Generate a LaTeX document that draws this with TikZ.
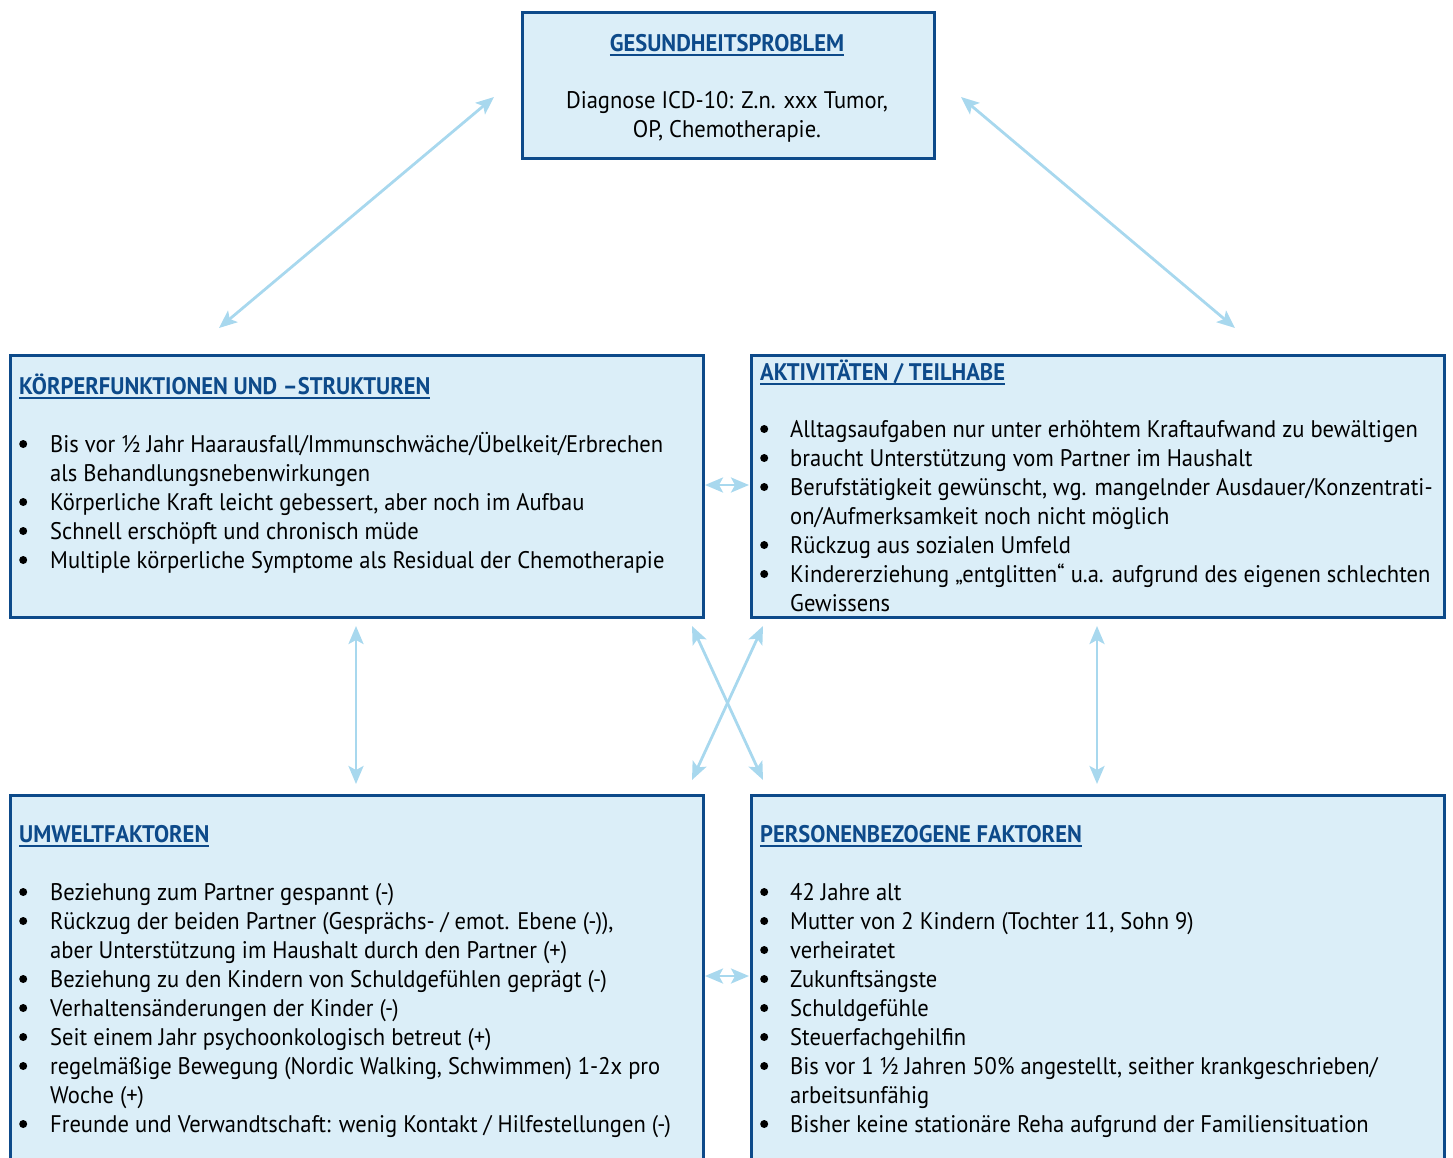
\documentclass[tikz,border=0pt]{standalone}
\usepackage{fontspec}
\setmainfont[FakeStretch=0.94]{PT Sans}
\usetikzlibrary{arrows.meta}
\definecolor{boxfill}{HTML}{DBEEF8}
\definecolor{boxline}{HTML}{0D4A8A}
\definecolor{arrowc}{HTML}{A8D8EE}
\newcommand\myul[1]{\setbox0\hbox{#1}\rlap{\rule[-4.5pt]{\wd0}{1.5pt}}\box0}
\newcommand\ttl[1]{{\bfseries\color{boxline}\myul{#1}}}
\newcommand\bul{\tikz[baseline=0pt,x=1pt,y=1pt]\fill[black] (4,8) circle (4);}
\begin{document}
\begin{tikzpicture}[x=1pt,y=-1pt,
  box/.style={draw=boxline,fill=boxfill,line width=2.6pt,rectangle,anchor=north west,inner sep=0pt},
  txt/.style={anchor=base west,inner sep=0pt,font=\fontsize{24}{29}\selectfont},
  ctxt/.style={anchor=base,inner sep=0pt,font=\fontsize{24}{29}\selectfont},
  link/.style={draw=arrowc,line width=2.8pt,{Stealth[length=18pt,width=15pt,inset=4pt]}-{Stealth[length=18pt,width=15pt,inset=4pt]}}]
\useasboundingbox (0,0) rectangle (1453,1157);
% boxes
\node[box,minimum width=412pt,minimum height=146pt] (top) at (521,11) {};
\node[box,minimum width=693pt,minimum height=262pt] (kf) at (9,354) {};
\node[box,minimum width=693pt,minimum height=262pt] (at) at (750,354) {};
\node[box,minimum width=693pt,minimum height=400pt] (uw) at (9,794) {};
\node[box,minimum width=693pt,minimum height=400pt] (pf) at (750,794) {};
% top text
\node[ctxt] (toptitle) at (727,51) {\ttl{GESUNDHEITSPROBLEM}};
\node[ctxt] (topl1) at (727,108) {Diagnose ICD-10: Z.n. xxx Tumor,};
\node[ctxt] (topl2) at (727,137) {OP, Chemotherapie.};
% titles
\node[txt] (kft) at (19,394) {\ttl{KÖRPERFUNKTIONEN UND –STRUKTUREN}};
\node[txt] (att) at (760,380) {\ttl{AKTIVITÄTEN / TEILHABE}};
\node[txt] (uwt) at (19,842) {\ttl{UMWELTFAKTOREN}};
\node[txt] (pft) at (760,842) {\ttl{PERSONENBEZOGENE FAKTOREN}};
% bodies
\node[txt] (kfb) at (19,452) {\begin{tabular}[t]{@{}p{31pt}@{}l@{}}
\bul&Bis vor ½ Jahr Haarausfall/Immunschwäche/Übelkeit/Erbrechen\\
&als Behandlungsnebenwirkungen\\
\bul&Körperliche Kraft leicht gebessert, aber noch im Aufbau\\
\bul&Schnell erschöpft und chronisch müde\\
\bul&Multiple körperliche Symptome als Residual der Chemotherapie
\end{tabular}};
\node[txt] (atb) at (760,437) {\begin{tabular}[t]{@{}p{30pt}@{}l@{}}
\bul&Alltagsaufgaben nur unter erhöhtem Kraftaufwand zu bewältigen\\
\bul&braucht Unterstützung vom Partner im Haushalt\\
\bul&Berufstätigkeit gewünscht, wg. mangelnder Ausdauer/Konzentrati-\\
&on/Aufmerksamkeit noch nicht möglich\\
\bul&Rückzug aus sozialen Umfeld\\
\bul&Kindererziehung „entglitten“ u.a. aufgrund des eigenen schlechten\\
&Gewissens
\end{tabular}};
\node[txt] (uwb) at (19,900) {\begin{tabular}[t]{@{}p{31pt}@{}l@{}}
\bul&Beziehung zum Partner gespannt (-)\\
\bul&Rückzug der beiden Partner (Gesprächs- / emot. Ebene (-)),\\
&aber Unterstützung im Haushalt durch den Partner (+)\\
\bul&Beziehung zu den Kindern von Schuldgefühlen geprägt (-)\\
\bul&Verhaltensänderungen der Kinder (-)\\
\bul&Seit einem Jahr psychoonkologisch betreut (+)\\
\bul&regelmäßige Bewegung (Nordic Walking, Schwimmen) 1-2x pro\\
&Woche (+)\\
\bul&Freunde und Verwandtschaft: wenig Kontakt / Hilfestellungen (-)
\end{tabular}};
\node[txt] (pfb) at (760,900) {\begin{tabular}[t]{@{}p{30pt}@{}l@{}}
\bul&42 Jahre alt\\
\bul&Mutter von 2 Kindern (Tochter 11, Sohn 9)\\
\bul&verheiratet\\
\bul&Zukunftsängste\\
\bul&Schuldgefühle\\
\bul&Steuerfachgehilfin\\
\bul&Bis vor 1 ½ Jahren 50\% angestellt, seither krankgeschrieben/\\
&arbeitsunfähig\\
\bul&Bisher keine stationäre Reha aufgrund der Familiensituation
\end{tabular}};
% arrow end points
\coordinate (a1) at (494,97);  \coordinate (b1) at (219,328);
\coordinate (a2) at (961,97);  \coordinate (b2) at (1235,328);
\coordinate (a3) at (705,485); \coordinate (b3) at (749,485);
\coordinate (a4) at (356,626); \coordinate (b4) at (356,784);
\coordinate (a5) at (1097,626); \coordinate (b5) at (1097,784);
\coordinate (a6) at (692,626); \coordinate (b6) at (763,780);
\coordinate (a7) at (763,626); \coordinate (b7) at (692,780);
\coordinate (a8) at (705,976); \coordinate (b8) at (749,976);
\foreach \i in {1,...,8} {\draw[link] (a\i) -- (b\i);}
\end{tikzpicture}
\end{document}
